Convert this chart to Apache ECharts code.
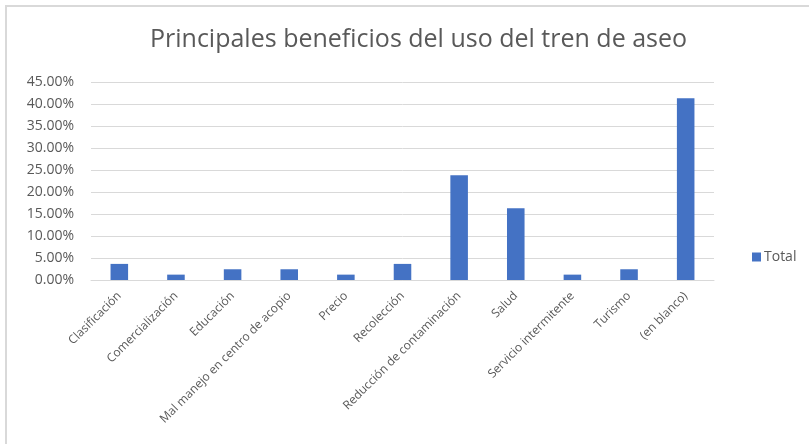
<!DOCTYPE html>
<html>
<head>
<meta charset="utf-8">
<script src="https://cdn.jsdelivr.net/npm/echarts@6/dist/echarts.min.js"></script>
<style>
  html, body { margin: 0; padding: 0; background: #fff; }
  #main { width: 809px; height: 444px; }
</style>
</head>
<body>
<div id="main"></div>
<script>
// categories and values (percent)
const categories = [
  "Clasificación",
  "Comercialización",
  "Educación",
  "Mal manejo en centro de acopio",
  "Precio",
  "Recolección",
  "Reducción de contaminación",
  "Salud",
  "Servicio intermitente",
  "Turismo",
  "(en blanco)"
];
const totalValues = [3.66, 1.22, 2.44, 2.44, 1.22, 3.66, 23.8, 16.3, 1.22, 2.44, 41.3];
const seriesName = "Total";
const chartTitle = "Principales beneficios del uso del tren de aseo";

const font = "'Open Sans', 'Noto Sans', sans-serif";
const grey = "#595959";

var myChart = echarts.init(document.getElementById("main"));
var option = {
  animation: false,
  textStyle: { fontFamily: font },
  title: {
    text: chartTitle,
    left: 145,
    top: 22,
    textStyle: {
      fontFamily: font,
      fontSize: 25,
      fontWeight: "normal",
      color: grey
    }
  },
  graphic: [
    {
      type: "rect",
      shape: { x: 6, y: 6, width: 820, height: 460 },
      style: { fill: "none", stroke: "#d9d9d9", lineWidth: 2 },
      silent: true
    }
  ],
  legend: {
    data: [seriesName],
    orient: "vertical",
    left: 747,
    top: 245,
    itemWidth: 9,
    itemHeight: 9,
    itemGap: 4,
    icon: "rect",
    textStyle: { fontFamily: font, fontSize: 14, color: grey, padding: [0, 0, 0, -2] }
  },
  grid: {
    left: 91,
    right: 95,
    top: 82,
    bottom: 164,
    containLabel: false
  },
  xAxis: {
    type: "category",
    data: categories,
    axisLine: { lineStyle: { color: "#d9d9d9", width: 1 } },
    axisTick: { show: false },
    axisLabel: {
      interval: 0,
      rotate: 45,
      fontFamily: font,
      fontSize: 12,
      color: grey,
      margin: 14
    }
  },
  yAxis: {
    type: "value",
    min: 0,
    max: 45,
    interval: 5,
    axisLine: { show: false },
    axisTick: { show: false },
    splitLine: { lineStyle: { color: "#d9d9d9", width: 1 } },
    axisLabel: {
      fontFamily: font,
      fontSize: 14,
      color: grey,
      margin: 17,
      formatter: function (v) {
        return v.toFixed(2) + "%";
      }
    }
  },
  series: [
    {
      name: seriesName,
      type: "bar",
      data: totalValues,
      barWidth: "31%",
      itemStyle: { color: "#4472c4" }
    }
  ]
};
myChart.setOption(option);
</script>
</body>
</html>
